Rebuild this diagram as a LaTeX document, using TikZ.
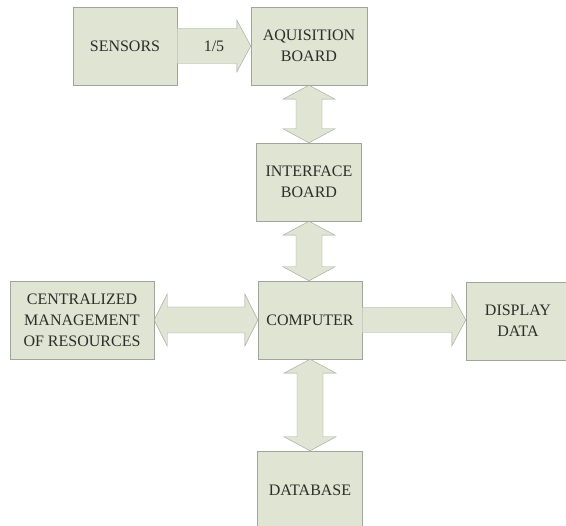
\documentclass[tikz,border=0pt]{standalone}
\usepackage{fontspec}
\setmainfont{Liberation Serif}
\usetikzlibrary{calc}

\definecolor{boxfill}{RGB}{223,228,211}
\definecolor{boxline}{RGB}{160,164,154}
\definecolor{boxtext}{RGB}{45,45,40}

\tikzset{
    blk/.style={draw=boxline,fill=boxfill,text=boxtext,align=center,
        inner sep=0pt,minimum height=78pt,font=\fontsize{16}{21}\selectfont},
    fat/.style={draw=boxline,fill=boxfill,line join=miter}
}

% fat double arrow, #1 above #2
\newcommand{\vfat}[2]{%
    \path[fat] let \p1=(#1.south), \p2=(#2.north) in
        (\x1,\y1) -- (\x1+26pt,\y1-14pt) -- (\x1+13pt,\y1-14pt) -- (\x1+13pt,\y2+14pt)
        -- (\x1+26pt,\y2+14pt) -- (\x1,\y2) -- (\x1-26pt,\y2+14pt) -- (\x1-13pt,\y2+14pt)
        -- (\x1-13pt,\y1-14pt) -- (\x1-26pt,\y1-14pt) -- cycle;}
% fat double arrow, #1 left of #2
\newcommand{\hfat}[2]{%
    \path[fat] let \p1=(#1.east), \p2=(#2.west) in
        (\x1,\y1) -- (\x1+13pt,\y1+26pt) -- (\x1+13pt,\y1+13pt) -- (\x2-13pt,\y1+13pt)
        -- (\x2-13pt,\y1+26pt) -- (\x2,\y1) -- (\x2-13pt,\y1-26pt) -- (\x2-13pt,\y1-13pt)
        -- (\x1+13pt,\y1-13pt) -- (\x1+13pt,\y1-26pt) -- cycle;}
% fat single arrow, #1 to #2, shaft half width #3
\newcommand{\hone}[3]{%
    \path[fat] let \p1=(#1.east), \p2=(#2.west) in
        (\x1,\y1+#3) -- (\x2-14pt,\y1+#3) -- (\x2-14pt,\y1+26pt) -- (\x2,\y1)
        -- (\x2-14pt,\y1-26pt) -- (\x2-14pt,\y1-#3) -- (\x1,\y1-#3) -- cycle;}

\begin{document}
\begin{tikzpicture}[x=1pt,y=-1pt]
    \clip (0,0) rectangle (566,526);
    \fill[white] (0,0) rectangle (566,526);

    \node[blk,minimum width=104pt] (sens) at (125,46) {SENSORS};
    \node[blk,minimum width=116pt] (aqb) at (309,46) {AQUISITION\\BOARD};
    \node[blk,minimum width=105pt] (ifb) at (309,182) {INTERFACE\\BOARD};
    \node[blk,minimum width=104pt] (comp) at (310,320) {COMPUTER};
    \node[blk,minimum width=144pt] (cmr) at (82,320) {CENTRALIZED\\MANAGEMENT\\OF RESOURCES};
    \node[blk,minimum width=104pt] (disp) at (518,321) {DISPLAY\\DATA};
    \node[blk,minimum width=105pt] (dbase) at (310,490) {DATABASE};

    \hone{sens}{aqb}{17.5pt}
    \node[text=boxtext,font=\fontsize{16}{21}\selectfont] (ratio) at ($(sens.east)!0.5!(aqb.west)$) {1/5};
    \vfat{aqb}{ifb}
    \vfat{ifb}{comp}
    \vfat{comp}{dbase}
    \hfat{cmr}{comp}
    \hone{comp}{disp}{12.5pt}
\end{tikzpicture}
\end{document}
